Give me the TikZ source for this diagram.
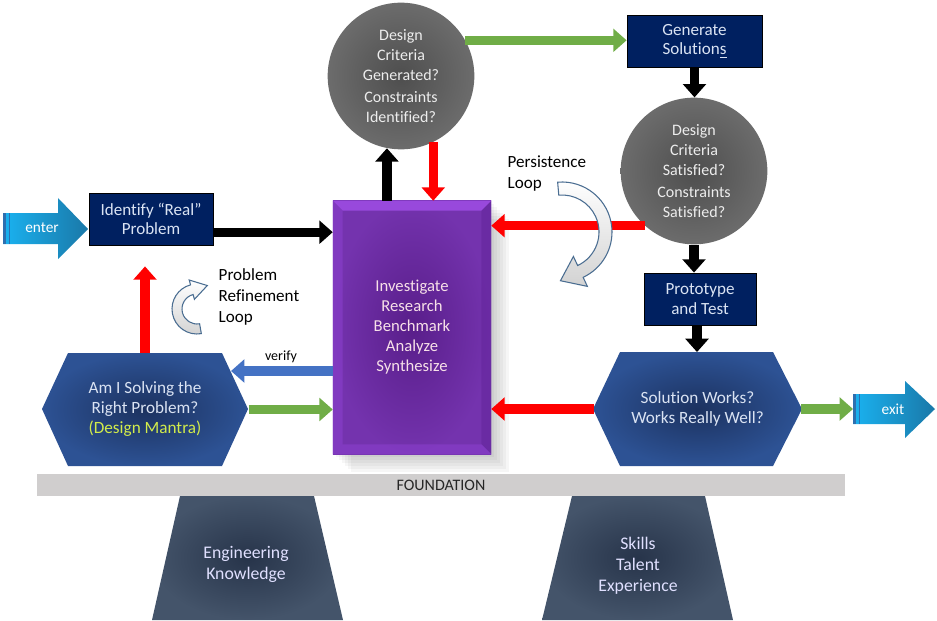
\documentclass[tikz,border=0pt]{standalone}
\usepackage{fontspec}
\setmainfont[Ligatures=NoCommon]{Carlito}
\usetikzlibrary{arrows.meta,calc}

\definecolor{navy}{HTML}{002060}
\definecolor{arrowgreen}{HTML}{70AD47}
\definecolor{arrowblue}{HTML}{4472C4}
\definecolor{circlein}{HTML}{4E4E4E}
\definecolor{circleout}{HTML}{6C6C6C}
\definecolor{hexin}{HTML}{1C3260}
\definecolor{hexout}{HTML}{2D5294}
\definecolor{purplein}{HTML}{591E8A}
\definecolor{purpleout}{HTML}{7433AE}
\definecolor{beveltop}{HTML}{A24FE8}
\definecolor{bevelside}{HTML}{8A3FCC}
\definecolor{beveldark}{HTML}{62249A}
\definecolor{trapin}{HTML}{27344A}
\definecolor{trapout}{HTML}{44546A}
\definecolor{lighttext}{HTML}{DAE3F3}
\definecolor{mantra}{HTML}{D2EC4B}
\definecolor{foundgray}{HTML}{D0CECE}
\definecolor{loopedge}{HTML}{4A6D91}
\definecolor{enterlight}{HTML}{1AB2F0}
\definecolor{enterdark}{HTML}{1A78A8}
\definecolor{stripe}{HTML}{2E6FB0}

\tikzset{
  flowarrow/.style={line width=7pt, -{Triangle[length=10pt,width=17pt]}},
  blackarrow/.style={flowarrow, draw=black},
  redarrow/.style={flowarrow, draw=red},
  greenarrow/.style={flowarrow, draw=arrowgreen},
  bluearrow/.style={flowarrow, draw=arrowblue},
  navybox/.style={draw=black, line width=0.6pt, fill=navy, text=lighttext,
    minimum height=39pt, inner sep=0pt, align=center,
    font=\fontsize{12.8}{14.5}\selectfont},
  gearcircle/.style={circle, inner color=circlein, outer color=circleout,
    minimum size=110pt, inner sep=0pt, align=center, text=white!93!black,
    font=\fontsize{12}{15}\selectfont},
  resbox/.style={rectangle, inner color=purplein, outer color=purpleout,
    minimum width=118.5pt, minimum height=189.75pt, inner sep=0pt,
    align=center, text=white!88!purple, font=\fontsize{12.5}{15}\selectfont},
  hextext/.style={minimum width=155pt, minimum height=85pt, inner sep=0pt,
    align=center, text=lighttext, font=\fontsize{12.9}{15}\selectfont},
  traptext/.style={align=center, text=white!88!blue, font=\fontsize{13.3}{15.75}\selectfont},
  looptext/.style={align=left, anchor=west, font=\fontsize{12.8}{15.75}\selectfont},
  loopshape/.style={draw=loopedge, line width=0.8pt, top color=white, bottom color=gray!35},
  blockarrow/.style={left color=enterlight, right color=enterdark},
  arrowtext/.style={text=white, font=\fontsize{11.5}{12}\selectfont}
}

\begin{document}
\begin{tikzpicture}[x=0.75pt, y=-0.75pt]
\useasboundingbox (0,0) rectangle (937,620);

% --- Foundation and pillars ---
\fill[foundgray] (37,474) rectangle (845,496);
\node[font=\fontsize{12}{12}\selectfont, text=black!85] (found) at (441,485) {FOUNDATION};

\shade[inner color=trapin, outer color=trapout] (180,496) -- (314,496) -- (343,620) -- (152,620) -- cycle;
\node[traptext] (engk) at (246,564) {Engineering\\Knowledge};
\shade[inner color=trapin, outer color=trapout] (572,496) -- (705,496) -- (733,620) -- (542,620) -- cycle;
\node[traptext] (skills) at (638,566) {Skills\\Talent\\Experience};

% --- Enter / exit block arrows ---
\shade[blockarrow] (3,213) -- (58,213) -- (58,198) -- (88,229) -- (58,259) -- (58,244) -- (3,244) -- cycle;
\fill[stripe] (3,213) rectangle (6,244);
\fill[stripe] (8.5,213) rectangle (10,244);
\node[arrowtext] (enter) at (42,228) {enter};

\shade[blockarrow] (853,394) -- (905,394) -- (905,381) -- (935,409) -- (905,438) -- (905,424) -- (853,424) -- cycle;
\fill[stripe] (853,394) rectangle (856,424);
\fill[stripe] (858.5,394) rectangle (860,424);
\node[arrowtext] (exit) at (893,409) {exit};
\coordinate (exitL) at (853,409);

% --- Central research block (soft shadow first) ---
\foreach \s in {3,6,...,18}
  \fill[black, opacity=0.035] (333+\s,201+\s) rectangle (491+\s,454+\s);
\node[resbox] (res) at (412,327.5) {Investigate\\Research\\Benchmark\\Analyze\\Synthesize};
\fill[beveltop, opacity=0.8] (res.north west) -- (res.north east) -- ($(res.north east)+(-10,10)$) -- ($(res.north west)+(10,10)$) -- cycle;
\fill[bevelside, opacity=0.6] (res.north west) -- ($(res.north west)+(10,10)$) -- ($(res.south west)+(10,-10)$) -- (res.south west) -- cycle;
\fill[beveldark, opacity=0.5] (res.north east) -- ($(res.north east)+(-10,10)$) -- ($(res.south east)+(-10,-10)$) -- (res.south east) -- cycle;
\fill[bevelside, opacity=0.6] (res.south west) -- ($(res.south west)+(10,-10)$) -- ($(res.south east)+(-10,-10)$) -- (res.south east) -- cycle;

% --- Boxes and circles ---
\node[navybox, minimum width=93pt] (ident) at (151,219) {Identify “Real”\\Problem};
\node[navybox, minimum width=101.25pt] (gen) at (694.5,41) {Generate\\Solution\underline{s}};
\node[navybox, minimum width=84pt] (proto) at (700,299) {Prototype\\and Test};

\node[gearcircle] (c1) at (401,76) {Design\\Criteria\\Generated?\\[1.5pt]Constraints\\Identified?};
\node[gearcircle] (c2) at (694,171) {Design\\Criteria\\Satisfied?\\[1.5pt]Constraints\\Satisfied?};

% --- Hexagons ---
\shade[inner color=hexin, outer color=hexout] (42,409) -- (68,353) -- (222,353) -- (248,409) -- (222,466) -- (68,466) -- cycle;
\node[hextext] (hexL) at (145,409.5) {Am I Solving the\\Right Problem?\\\textcolor{mantra}{(Design Mantra)}};
\shade[inner color=hexin, outer color=hexout] (593,409) -- (620,352) -- (773,352) -- (802,409) -- (773,466) -- (620,466) -- cycle;
\node[hextext] (hexR) at (697.5,409) {Solution Works?\\Works Really Well?};
\coordinate (verifytip) at (231,371);

% --- Connectors ---
\draw[blackarrow] ($(ident.north east)!0.75!(ident.south east)$) coordinate (a) -- (a -| res.west);
\draw[blackarrow] (c1.-101 |- res.north) -- (c1.-101);
\draw[redarrow] (c1.-64) -- (c1.-64 |- res.north);
\draw[greenarrow] (c1.29) -- (c1.29 -| gen.west);
\draw[blackarrow] (gen.south) -- (gen.south |- c2.north);
\draw[redarrow] (c2.228) -- (c2.228 -| res.east);
\draw[blackarrow] (c2.south) -- (c2.south |- proto.north);
\draw[blackarrow] (proto.south) ++(-3,0) coordinate (b) -- (b |- hexR.north);
\draw[redarrow] (hexR.west) -- (hexR.west -| res.east);
\draw[greenarrow] (hexR.east) -- (exitL);
\draw[greenarrow] (hexL.east) -- (hexL.east -| res.west);
\draw[bluearrow] (verifytip -| res.west) -- (verifytip);
\node[font=\fontsize{10.5}{12}\selectfont] (verify) at (281,357) {verify};
\coordinate (reftip) at ($(ident.south)+(0,21)$);
\draw[redarrow] (hexL.north) -- (reftip -| hexL.north);

% --- Loop arrows ---
\coordinate (rfc) at (197,309);
\path[loopshape] ($(rfc)+(80:15)$) -- ($(rfc)+(80:25)$)
  arc[start angle=80, end angle=255, radius=25]
  -- ($(rfc)+(255:30)$) -- ($(rfc)+(255:20)+(345:16)$) -- ($(rfc)+(255:10)$)
  -- ($(rfc)+(255:15)$) arc[start angle=255, end angle=80, radius=15] -- cycle;
\node[looptext] (refine) at (214,297) {Problem\\Refinement\\Loop};

\coordinate (psc) at (562,232);
\path[loopshape] ($(psc)+(-95:37)$) -- ($(psc)+(-95:50)$)
  arc[start angle=-95, end angle=65, radius=50]
  -- ($(psc)+(65:60)$) -- ($(psc)+(65:43.5)+(155:22)$) -- ($(psc)+(65:27)$)
  -- ($(psc)+(65:37)$) arc[start angle=65, end angle=-95, radius=37] -- cycle;
\node[looptext] (persist) at (503,174) {Persistence\\Loop};

\end{tikzpicture}
\end{document}
